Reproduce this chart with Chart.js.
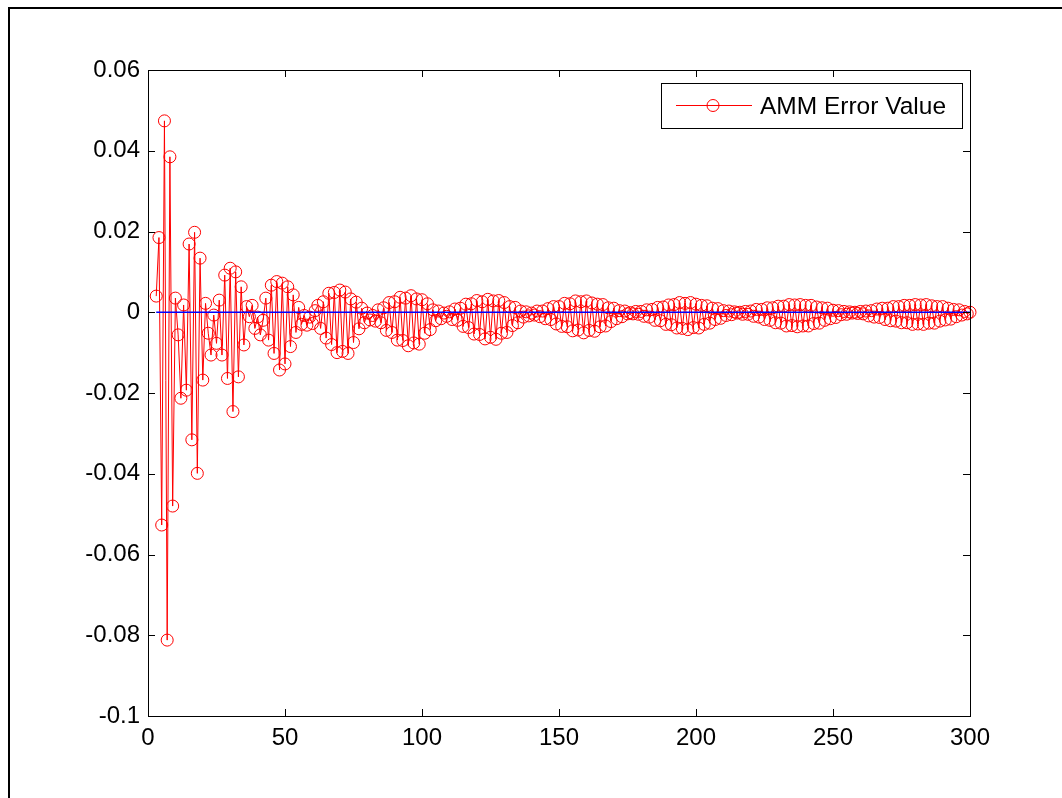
<!DOCTYPE html>
<html>
<head>
<meta charset="utf-8">
<script src="https://cdn.jsdelivr.net/npm/chart.js@4.4.1/dist/chart.umd.min.js"></script>
<style>
  html, body { margin: 0; padding: 0; background: #fff; }
  #wrap { width: 1062px; height: 798px; position: relative; }
</style>
</head>
<body>
<div id="wrap"><canvas id="chart"></canvas></div>
<script>
// --- data ---

const sampleStart = 3;          // first sample index on the x axis
const ammError = [
  0.0040, 0.0185, -0.0527, 0.0474, -0.0812, 0.0385, -0.0480, 0.0035, -0.0056, -0.0213,
  0.0018, -0.0193, 0.0169, -0.0316, 0.0198, -0.0399, 0.0134, -0.0168, 0.0022, -0.0052,
  -0.0106, -0.0007, -0.0077, 0.0030, -0.0106, 0.0092, -0.0164, 0.0109, -0.0246, 0.0100,
  -0.0160, 0.0063, -0.0081, 0.0014, -0.0011, 0.0017, -0.0040, -0.0012, -0.0056, -0.0020,
  0.0035, -0.0069, 0.0067, -0.0102, 0.0076, -0.0143, 0.0072, -0.0128, 0.0063, -0.0085,
  0.0043, -0.0050, 0.0012, -0.0030, -0.0008, -0.0032, -0.0012, -0.0028, 0.0004, 0.0017,
  -0.0040, 0.0026, -0.0064, 0.0047, -0.0080, 0.0049, -0.0100, 0.0055, -0.0097, 0.0050,
  -0.0102, 0.0033, -0.0075, 0.0025, -0.0041, 0.0010, -0.0026, -0.0002, -0.0019, -0.0008,
  -0.0022, 0.0006, -0.0026, 0.0011, -0.0045, 0.0024, -0.0050, 0.0026, -0.0069, 0.0037,
  -0.0070, 0.0035, -0.0083, 0.0041, -0.0076, 0.0033, -0.0079, 0.0031, -0.0052, 0.0021,
  -0.0043, 0.0006, -0.0021, 0.0003, -0.0016, -0.0002, -0.0010, 0.0001, -0.0018, 0.0008,
  -0.0020, 0.0010, -0.0035, 0.0020, -0.0038, 0.0021, -0.0054, 0.0029, -0.0055, 0.0026,
  -0.0066, 0.0032, -0.0062, 0.0028, -0.0067, 0.0029, -0.0052, 0.0024, -0.0050, 0.0014,
  -0.0033, 0.0012, -0.0026, 0.0003, -0.0012, 0.0001, -0.0009, -0.0002, -0.0007, 0.0003,
  -0.0011, 0.0003, -0.0016, 0.0009, -0.0018, 0.0014, -0.0029, 0.0014, -0.0035, 0.0022,
  -0.0036, 0.0021, -0.0046, 0.0028, -0.0044, 0.0026, -0.0051, 0.0028, -0.0045, 0.0023,
  -0.0047, 0.0020, -0.0036, 0.0019, -0.0034, 0.0011, -0.0023, 0.0010, -0.0016, 0.0004,
  -0.0011, 0.0003, -0.0004, -0.0001, -0.0004, 0.0002, -0.0005, 0.0002, -0.0010, 0.0006,
  -0.0012, 0.0007, -0.0020, 0.0012, -0.0021, 0.0013, -0.0030, 0.0018, -0.0031, 0.0019,
  -0.0039, 0.0024, -0.0040, 0.0022, -0.0043, 0.0024, -0.0038, 0.0020, -0.0039, 0.0017,
  -0.0030, 0.0016, -0.0027, 0.0010, -0.0018, 0.0009, -0.0015, 0.0004, -0.0008, 0.0003,
  -0.0006, 0.0001, -0.0002, 0.0000, -0.0005, 0.0002, -0.0005, 0.0003, -0.0010, 0.0007,
  -0.0012, 0.0007, -0.0018, 0.0011, -0.0020, 0.0011, -0.0026, 0.0015, -0.0027, 0.0015,
  -0.0034, 0.0019, -0.0033, 0.0018, -0.0036, 0.0019, -0.0034, 0.0017, -0.0034, 0.0017,
  -0.0028, 0.0013, -0.0027, 0.0011, -0.0020, 0.0010, -0.0016, 0.0005, -0.0013, 0.0004,
  -0.0006, 0.0002, -0.0005, 0.0001, -0.0002, 0.0000, -0.0003, 0.0002, -0.0004, 0.0003,
  -0.0009, 0.0004, -0.0012, 0.0008, -0.0013, 0.0010, -0.0018, 0.0010, -0.0021, 0.0014,
  -0.0022, 0.0014, -0.0026, 0.0017, -0.0026, 0.0017, -0.0030, 0.0019, -0.0029, 0.0018,
  -0.0030, 0.0019, -0.0027, 0.0016, -0.0027, 0.0014, -0.0022, 0.0014, -0.0019, 0.0010,
  -0.0017, 0.0007, -0.0011, 0.0006, -0.0007, 0.0002, -0.0004, 0.0000
];
const referenceLevel = 0;       // blue zero line

const xTicks = [0, 50, 100, 150, 200, 250, 300];
const xTickLabels = ['0', '50', '100', '150', '200', '250', '300'];
const yTicks = [-0.1, -0.08, -0.06, -0.04, -0.02, 0, 0.02, 0.04, 0.06];
const yTickLabels = ['-0.1', '-0.08', '-0.06', '-0.04', '-0.02', '0', '0.02', '0.04', '0.06'];
const seriesLabel = 'AMM Error Value';

// --- styling ---

const FONT = "'Liberation Sans', Arial, sans-serif";
const RED = '#ff0000';
const BLUE = '#0000ff';
const TICK_LEN = 7;

const errorPoints = ammError.map((v, i) => ({ x: sampleStart + i, y: v }));
const lastX = sampleStart + ammError.length - 1;
const zeroPoints = [{ x: sampleStart, y: referenceLevel }, { x: lastX, y: referenceLevel }];

// figure frame, axes box with inward ticks, legend (MATLAB look)
const matlabLook = {
  id: 'matlabLook',
  beforeDraw(chart) {
    const ctx = chart.ctx;
    ctx.save();
    ctx.fillStyle = '#fff';
    ctx.fillRect(0, 0, chart.width, chart.height);
    ctx.strokeStyle = '#000';
    ctx.lineWidth = 2;
    ctx.beginPath();
    ctx.moveTo(9, chart.height);
    ctx.lineTo(9, 8);
    ctx.lineTo(chart.width, 8);
    ctx.stroke();
    ctx.restore();
  },
  afterDraw(chart) {
    const ctx = chart.ctx;
    const a = chart.chartArea;
    const xs = chart.scales.x, ys = chart.scales.y;
    ctx.save();
    ctx.strokeStyle = '#000';
    ctx.lineWidth = 1;
    ctx.strokeRect(Math.round(a.left) + 0.5, Math.round(a.top) + 0.5,
      Math.round(a.right - a.left), Math.round(a.bottom - a.top));
    ctx.beginPath();
    for (const v of xTicks) {
      const px = Math.round(xs.getPixelForValue(v)) + 0.5;
      ctx.moveTo(px, a.bottom); ctx.lineTo(px, a.bottom - TICK_LEN);
      ctx.moveTo(px, a.top); ctx.lineTo(px, a.top + TICK_LEN);
    }
    for (const v of yTicks) {
      const py = Math.round(ys.getPixelForValue(v)) + 0.5;
      ctx.moveTo(a.left, py); ctx.lineTo(a.left + TICK_LEN, py);
      ctx.moveTo(a.right, py); ctx.lineTo(a.right - TICK_LEN, py);
    }
    ctx.stroke();

    // legend
    const lx = 661, ly = 83, lw = 301, lh = 45;
    ctx.fillStyle = '#fff';
    ctx.fillRect(lx, ly, lw, lh);
    ctx.strokeRect(lx + 0.5, ly + 0.5, lw, lh);
    const my = ly + 22.5;
    ctx.strokeStyle = RED;
    ctx.beginPath();
    ctx.moveTo(676, my); ctx.lineTo(752, my);
    ctx.stroke();
    ctx.beginPath();
    ctx.arc(713, my, 6, 0, Math.PI * 2);
    ctx.stroke();
    ctx.fillStyle = '#000';
    ctx.font = '24.5px ' + FONT;
    ctx.textBaseline = 'middle';
    ctx.textAlign = 'left';
    ctx.fillText(seriesLabel, 760, my + 2);
    ctx.restore();
  }
};

new Chart(document.getElementById('chart'), {
  type: 'scatter',
  data: {
    datasets: [
      {
        label: 'zero',
        data: zeroPoints,
        showLine: true,
        borderColor: BLUE,
        borderWidth: 1.3,
        pointRadius: 0,
        fill: false
      },
      {
        label: seriesLabel,
        data: errorPoints,
        showLine: true,
        tension: 0,
        borderColor: RED,
        borderWidth: 1,
        pointStyle: 'circle',
        pointRadius: 6,
        pointBorderWidth: 1,
        pointBorderColor: RED,
        pointBackgroundColor: 'rgba(0,0,0,0)',
        fill: false,
        clip: false
      }
    ]
  },
  options: {
    responsive: true,
    maintainAspectRatio: false,
    animation: false,
    layout: { padding: { top: 70, right: 92, left: 0, bottom: 0 } },
    plugins: { legend: { display: false }, tooltip: { enabled: false } },
    scales: {
      x: {
        type: 'linear', min: 0, max: 300,
        afterFit: s => { s.height = 82; },
        afterBuildTicks: s => { s.ticks = xTicks.map(v => ({ value: v })); },
        ticks: {
          autoSkip: false, maxRotation: 0, padding: 8, color: '#000',
          font: { family: FONT, size: 24 },
          callback: (v, i) => xTickLabels[i]
        },
        grid: { display: false, drawTicks: false },
        border: { display: false }
      },
      y: {
        type: 'linear', min: -0.1, max: 0.06,
        afterFit: s => { s.width = 148; },
        afterBuildTicks: s => { s.ticks = yTicks.map(v => ({ value: v })); },
        ticks: {
          autoSkip: false, padding: 8, color: '#000',
          font: { family: FONT, size: 24 },
          callback: (v, i) => yTickLabels[i]
        },
        grid: { display: false, drawTicks: false },
        border: { display: false }
      }
    }
  },
  plugins: [matlabLook]
});
</script>
</body>
</html>
